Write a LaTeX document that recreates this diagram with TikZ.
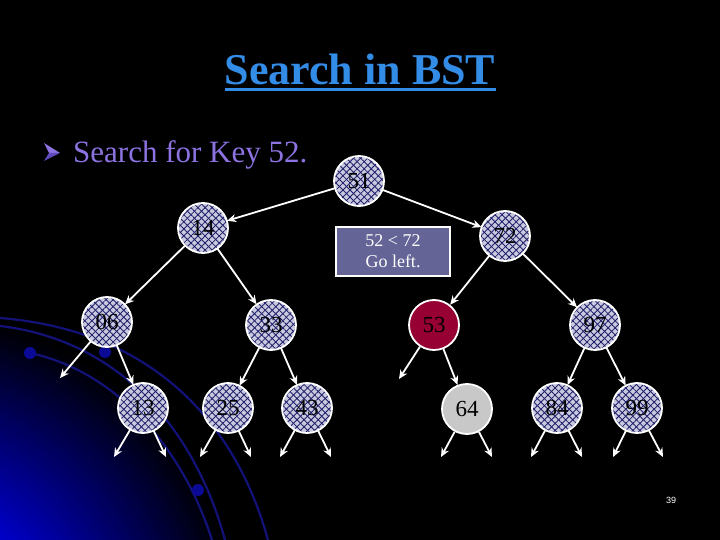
\documentclass[tikz,border=0pt]{standalone}
\usepackage{fontspec}
\setmainfont{Liberation Serif}
\setsansfont{Liberation Sans}
\usetikzlibrary{arrows.meta,patterns.meta}
\definecolor{ttlclr}{RGB}{51,140,230}
\definecolor{bulclr}{RGB}{140,115,225}
\definecolor{bulclrdk}{RGB}{95,75,190}
\definecolor{nodebg}{RGB}{200,200,222}
\definecolor{hatchclr}{RGB}{30,30,105}
\definecolor{hitclr}{RGB}{150,0,50}
\definecolor{leafclr}{RGB}{200,200,200}
\definecolor{hintclr}{RGB}{100,100,150}
\definecolor{glowA}{RGB}{0,0,215}
\definecolor{arcclr}{RGB}{18,18,120}
\definecolor{dotclr}{RGB}{10,10,150}
\tikzset{
  nblk/.style={circle,minimum size=50pt,inner sep=0pt,
    font=\fontsize{23}{23}\selectfont,text=black},
  hblk/.style={nblk,fill=nodebg,
    postaction={pattern={Lines[angle=45,distance=5pt,line width=0.85pt]},pattern color=hatchclr},
    postaction={pattern={Lines[angle=-45,distance=5pt,line width=0.85pt]},pattern color=hatchclr},
    postaction={draw=white,line width=1.8pt}},
  fblk/.style={nblk,fill=#1,draw=white,line width=1.8pt},
  hint/.style={rectangle,fill=hintclr,draw=white,line width=1.5pt,
    minimum width=114pt,minimum height=49pt,align=center,
    font=\fontsize{18}{21}\selectfont,text=white},
  arr/.style={-{Stealth[length=9pt,width=8pt]},draw=white,line width=1.8pt},
  bgarc/.style={arcclr,line width=2.2pt},
}
\begin{document}
\begin{tikzpicture}[x=1pt,y=-1pt]
  \useasboundingbox (0,0) rectangle (720,540);
  \fill[black] (0,0) rectangle (720,540);
  % blue glow and arcs, lower left
  \begin{scope}
    \clip (0,0) rectangle (720,540);
    \foreach \i in {0,...,42} {
      \pgfmathsetmacro{\rad}{345-5*\i}
      \pgfmathsetmacro{\pct}{min(100,100*(1-\rad/345)/0.6)}
      \fill[glowA!\pct!black] (-100,650) circle (\rad);
    }
    \draw[bgarc] (0,318) .. controls (150,330) and (235,420) .. (268,540);
    \draw[bgarc] (0,326) .. controls (120,340) and (195,430) .. (225,540);
    \draw[bgarc] (30,353) .. controls (110,370) and (180,440) .. (212,540);
    \fill[dotclr] (30,353) circle (6);
    \fill[dotclr] (105,352) circle (6);
    \fill[dotclr] (198,490) circle (6);
  \end{scope}
  % title
  \node[anchor=base,inner sep=0pt,text=ttlclr,font=\bfseries\fontsize{44}{44}\selectfont] (ttl) at (360,85) {Search in BST};
  \draw[ttlclr,line width=3pt] ([yshift=-5pt]ttl.base west) -- ([yshift=-5pt]ttl.base east);
  % bullet
  \fill[bulclr] (44,143) -- (60,153) -- (49,153) -- cycle;
  \fill[bulclrdk] (49,153) -- (60,153) -- (44,161) -- cycle;
  \node[anchor=base west,inner sep=0pt,text=bulclr,font=\fontsize{31}{31}\selectfont] (bul) at (73,163) {Search for Key 52.};
  % tree nodes
  \node[hblk] (n51) at (359,181) {51};
  \node[hblk] (n14) at (203,228) {14};
  \node[hblk] (n72) at (505,236) {72};
  \node[hblk] (n06) at (107,322) {06};
  \node[hblk] (n33) at (271,325) {33};
  \node[fblk=hitclr] (n53) at (434,325) {53};
  \node[hblk] (n97) at (595,325) {97};
  \node[hblk] (n13) at (143,408) {13};
  \node[hblk] (n25) at (228,408) {25};
  \node[hblk] (n43) at (307,408) {43};
  \node[fblk=leafclr] (n64) at (467,409) {64};
  \node[hblk] (n84) at (557,408) {84};
  \node[hblk] (n99) at (637,408) {99};
  \node[hint] (cmp) at (393,251.5) {52 < 72\\Go left.};
  % empty subtrees
  \coordinate (e06) at (60,378);
  \coordinate (e53) at (399,379);
  \coordinate (e13l) at (114,457); \coordinate (e13r) at (166,457);
  \coordinate (e25l) at (200,457); \coordinate (e25r) at (251,457);
  \coordinate (e43l) at (280,457); \coordinate (e43r) at (331,457);
  \coordinate (e64l) at (441,457); \coordinate (e64r) at (492,457);
  \coordinate (e84l) at (531,457); \coordinate (e84r) at (582,457);
  \coordinate (e99l) at (613,457); \coordinate (e99r) at (663,457);
  % links
  \draw[arr] (n51) -- (n14);
  \draw[arr] (n51) -- (n72);
  \draw[arr] (n14) -- (n06);
  \draw[arr] (n14) -- (n33);
  \draw[arr] (n72) -- (n53);
  \draw[arr] (n72) -- (n97);
  \draw[arr] (n06) -- (e06);
  \draw[arr] (n06) -- (n13);
  \draw[arr] (n33) -- (n25);
  \draw[arr] (n33) -- (n43);
  \draw[arr] (n53) -- (e53);
  \draw[arr] (n53) -- (n64);
  \draw[arr] (n97) -- (n84);
  \draw[arr] (n97) -- (n99);
  \draw[arr] (n13) -- (e13l); \draw[arr] (n13) -- (e13r);
  \draw[arr] (n25) -- (e25l); \draw[arr] (n25) -- (e25r);
  \draw[arr] (n43) -- (e43l); \draw[arr] (n43) -- (e43r);
  \draw[arr] (n64) -- (e64l); \draw[arr] (n64) -- (e64r);
  \draw[arr] (n84) -- (e84l); \draw[arr] (n84) -- (e84r);
  \draw[arr] (n99) -- (e99l); \draw[arr] (n99) -- (e99r);
  % page number
  \node[font=\sffamily\fontsize{9}{9}\selectfont,text=white] (pgno) at (671,500) {39};
\end{tikzpicture}
\end{document}
